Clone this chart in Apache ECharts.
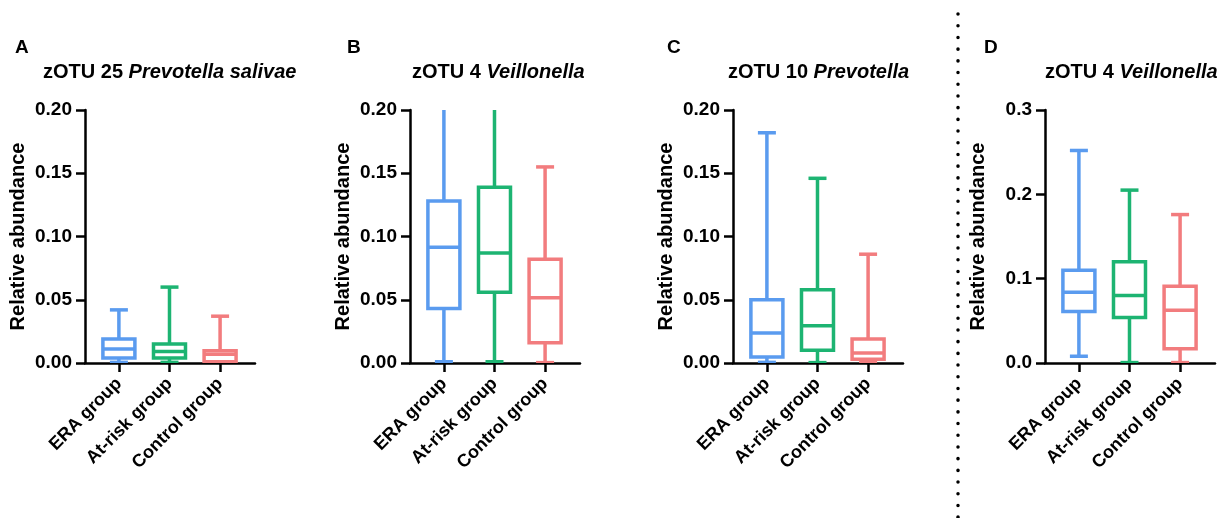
<!DOCTYPE html>
<html>
<head>
<meta charset="utf-8">
<script src="https://cdn.jsdelivr.net/npm/echarts@6/dist/echarts.min.js"></script>
<style>
  html, body { margin: 0; padding: 0; background: #fff; }
  #chart { width: 1226px; height: 518px; }
</style>
</head>
<body>
<div id="chart"></div>
<script>
// groups + colours (GraphPad style)
const groups = ['ERA group', 'At-risk group', 'Control group'];
const groupColors = ['#5A9BEF', '#1DB472', '#F27C7E'];

// panel titles: [plain part, italic part]
const panelLetters = ['A', 'B', 'C', 'D'];
const panelTitles = [
  ['zOTU 25 ', 'Prevotella salivae'],
  ['zOTU 4 ', 'Veillonella'],
  ['zOTU 10 ', 'Prevotella'],
  ['zOTU 4 ', 'Veillonella'],
];

// box values per group: [min, Q1, median, Q3, max]
const boxA = [
  [0.0005, 0.004, 0.011, 0.019, 0.042],
  [0.0005, 0.004, 0.009, 0.015, 0.060],
  [0.0003, 0.001, 0.007, 0.0097, 0.037],
];
const boxB = [
  [0.001, 0.043, 0.0915, 0.128, 0.24],
  [0.001, 0.056, 0.087, 0.139, 0.24],
  [0.0003, 0.016, 0.0515, 0.082, 0.155],
];
const boxC = [
  [0.0005, 0.0047, 0.0237, 0.050, 0.182],
  [0.0003, 0.010, 0.0295, 0.058, 0.146],
  [0.0003, 0.003, 0.008, 0.019, 0.086],
];
const boxD = [
  [0.008, 0.061, 0.084, 0.110, 0.252],
  [0.0005, 0.054, 0.080, 0.120, 0.205],
  [0.0005, 0.017, 0.0625, 0.091, 0.176],
];
const panelBoxes = [boxA, boxB, boxC, boxD];

// y-axis ranges per panel
const yMax = [0.2, 0.2, 0.2, 0.3];
const yStep = [0.05, 0.05, 0.05, 0.1];
const yDigits = [2, 2, 2, 1];

const chart = echarts.init(document.getElementById('chart'), null, { renderer: 'canvas' });

const gridLefts = [85, 410, 733, 1045];
const titleLefts = [38, 407, 723, 1040];
const letterLefts = [10, 342, 662, 979];
const FONT = '"Liberation Sans", Arial, sans-serif';

const grids = [], xAxes = [], yAxes = [], series = [], titles = [];

panelBoxes.forEach((boxes, i) => {
  grids.push({ left: gridLefts[i], top: 110, width: 170, height: 253 });
  xAxes.push({
    type: 'value', gridIndex: i, min: 0.33, max: 3.69,
    axisLine: { show: true, lineStyle: { color: '#000', width: 2.5 } },
    axisTick: { show: true, customValues: [1, 2, 3], length: 9, lineStyle: { color: '#000', width: 2.5 } },
    axisLabel: {
      customValues: [1, 2, 3], rotate: 45, margin: 18,
      formatter: (v) => groups[Math.round(v) - 1] || '',
      color: '#000', fontWeight: 'bold', fontSize: 18, fontFamily: FONT,
    },
    splitLine: { show: false },
  });
  yAxes.push({
    type: 'value', gridIndex: i, min: 0, max: yMax[i], interval: yStep[i],
    name: 'Relative abundance', nameLocation: 'middle', nameGap: 57,
    nameTextStyle: { color: '#000', fontWeight: 'bold', fontSize: 20, fontFamily: FONT },
    axisLine: { show: true, lineStyle: { color: '#000', width: 2.5 } },
    axisTick: { show: true, inside: false, length: 9, lineStyle: { color: '#000', width: 2.5 } },
    axisLabel: {
      margin: 13, color: '#000', fontWeight: 'bold', fontSize: 19, fontFamily: FONT,
      formatter: (v) => v.toFixed(yDigits[i]),
    },
    splitLine: { show: false },
  });
  series.push({
    type: 'custom', xAxisIndex: i, yAxisIndex: i, clip: true,
    data: boxes.map((b, k) => [k + 1].concat(b)),
    renderItem: (params, api) => {
      const x = api.value(0);
      const col = groupColors[params.dataIndex];
      const pt = (d) => api.coord([x, api.value(d)]);
      const pMin = pt(1), pQ1 = pt(2), pMed = pt(3), pQ3 = pt(4), pMax = pt(5);
      const cx = pMed[0], half = 16, cap = 9;
      const st = { stroke: col, lineWidth: 3.5, fill: null };
      return {
        type: 'group',
        children: [
          { type: 'rect', shape: { x: cx - half, y: pQ3[1], width: half * 2, height: pQ1[1] - pQ3[1] }, style: st },
          { type: 'line', shape: { x1: cx - half, y1: pMed[1], x2: cx + half, y2: pMed[1] }, style: st },
          { type: 'line', shape: { x1: cx, y1: pQ3[1], x2: cx, y2: pMax[1] }, style: st },
          { type: 'line', shape: { x1: cx, y1: pQ1[1], x2: cx, y2: pMin[1] }, style: st },
          { type: 'line', shape: { x1: cx - cap, y1: pMax[1], x2: cx + cap, y2: pMax[1] }, style: st },
          { type: 'line', shape: { x1: cx - cap, y1: pMin[1], x2: cx + cap, y2: pMin[1] }, style: st },
        ],
      };
    },
    z: 5,
  });
  titles.push({
    text: panelLetters[i], left: letterLefts[i], top: 33,
    textStyle: { color: '#000', fontWeight: 'bold', fontSize: 19, fontFamily: FONT },
  });
  titles.push({
    text: `{n|${panelTitles[i][0]}}{it|${panelTitles[i][1]}}`, left: titleLefts[i], top: 57,
    textStyle: {
      rich: {
        n: { color: '#000', fontWeight: 'bold', fontSize: 20, fontFamily: FONT },
        it: { color: '#000', fontWeight: 'bold', fontStyle: 'italic', fontSize: 20, fontFamily: FONT },
      },
    },
  });
});

chart.setOption({
  backgroundColor: '#fff',
  animation: false,
  title: titles,
  grid: grids,
  xAxis: xAxes,
  yAxis: yAxes,
  series,
  graphic: [{
    type: 'line', silent: true,
    shape: { x1: 958, y1: 14, x2: 958, y2: 518 },
    style: { stroke: '#000', lineWidth: 3.5, lineCap: 'round', lineDash: [0.1, 11.6] },
  }],
});

window.addEventListener('resize', () => chart.resize());
</script>
</body>
</html>
